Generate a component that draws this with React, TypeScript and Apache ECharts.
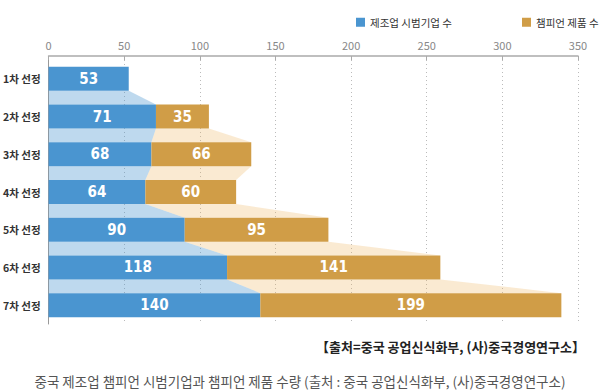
import React, { useEffect, useRef } from "react";
import * as echarts from "echarts";

const categories = ["1차 선정", "2차 선정", "3차 선정", "4차 선정", "5차 선정", "6차 선정", "7차 선정"];
const companies = [53, 71, 68, 64, 90, 118, 140];
const products = [0, 35, 66, 60, 95, 141, 199];
const xTicks = [0, 50, 100, 150, 200, 250, 300, 350];
const seriesNames = ["제조업 시범기업 수", "챔피언 제품 수"];
const sourceText = "【출처=중국 공업신식화부, (사)중국경영연구소】";
const captionText = "중국 제조업 챔피언 시범기업과 챔피언 제품 수량 (출처 : 중국 공업신식화부, (사)중국경영연구소)";

const BLUE = "#4a95d0";
const GOLD = "#d09d47";
const FONT = "'Noto Sans CJK KR', 'Noto Sans', sans-serif";
const NUMFONT = "'Liberation Sans Narrow', 'DejaVu Sans Condensed', sans-serif";
const BAR_W = 24;

export default function App() {
  const ref = useRef<HTMLDivElement>(null);
  useEffect(() => {
    if (!ref.current) return;
    const chart = echarts.init(ref.current, null, { renderer: "svg" });
    const connectors = categories.slice(0, -1).map((_, i) => [
      companies[i], i, products[i], companies[i + 1], products[i + 1],
    ]);
    chart.setOption({
      animation: false,
      textStyle: { fontFamily: FONT },
      legend: [
        {
          data: [seriesNames[0]], left: 351, top: 12, icon: "rect", itemWidth: 9, itemHeight: 9, itemGap: 6,
          textStyle: { fontSize: 10.5, color: "#333", fontFamily: FONT },
        },
        {
          data: [seriesNames[1]], left: 517, top: 12, icon: "rect", itemWidth: 9, itemHeight: 9,
          textStyle: { fontSize: 10.5, color: "#333", fontFamily: FONT },
        },
      ],
      grid: { left: 48, right: 22, top: 60, bottom: 68 },
      xAxis: {
        type: "value", position: "top", min: 0, max: Math.max(...xTicks), interval: 50, offset: 4,
        axisLine: { show: true, lineStyle: { color: "#aaa", width: 1.5 } },
        axisTick: { show: true, length: 4, inside: true, lineStyle: { color: "#aaa" } },
        axisLabel: { color: "#888", fontSize: 11, margin: 6, fontFamily: FONT },
        splitLine: { show: true, lineStyle: { color: "#bbb", type: [1, 3] } },
      },
      yAxis: {
        type: "category", data: categories, inverse: true,
        axisLine: { show: true, lineStyle: { color: "#999" } },
        axisTick: { show: false },
        axisLabel: { color: "#333", fontSize: 10.5, fontWeight: "bold", margin: 8, fontFamily: FONT },
      },
      series: [
        {
          type: "custom", z: 1, silent: true,
          encode: { x: 0, y: 1 },
          data: connectors,
          renderItem: (params: any, api: any) => {
            const i = api.value(1);
            const b0 = api.value(0), c0 = api.value(2), b1 = api.value(3), c1 = api.value(4);
            const p0 = api.coord([0, i]);
            const q0 = api.coord([0, i + 1]);
            const yTop = p0[1] + BAR_W / 2;
            const yBot = q0[1] - BAR_W / 2;
            const x0 = p0[0];
            const xb0 = api.coord([b0, i])[0];
            const xt0 = api.coord([b0 + c0, i])[0];
            const xb1 = api.coord([b1, i + 1])[0];
            const xt1 = api.coord([b1 + c1, i + 1])[0];
            const children: any[] = [
              {
                type: "polygon",
                shape: { points: [[x0, yTop], [xb0, yTop], [xb1, yBot], [x0, yBot]] },
                style: { fill: "rgba(74,149,208,0.36)" },
              },
            ];
            if (c0 > 0) {
              children.push({
                type: "polygon",
                shape: { points: [[xb0, yTop], [xt0, yTop], [xt1, yBot], [xb1, yBot]] },
                style: { fill: "rgba(236,176,90,0.27)" },
              });
            }
            return { type: "group", children };
          },
        },
        {
          name: seriesNames[0], type: "bar", stack: "t", barWidth: BAR_W, z: 3,
          data: companies,
          itemStyle: { color: BLUE },
          label: {
            show: true, position: "inside", color: "#fff", fontSize: 15, fontWeight: "bold",
            fontFamily: NUMFONT,
          },
        },
        {
          name: seriesNames[1], type: "bar", stack: "t", barWidth: BAR_W, z: 3,
          data: products.map((v) => (v === 0 ? null : v)),
          itemStyle: { color: GOLD },
          label: {
            show: true, position: "inside", color: "#fff", fontSize: 15, fontWeight: "bold",
            fontFamily: NUMFONT,
          },
        },
      ],
      graphic: [
        {
          type: "text", right: 15, top: 340,
          style: { text: sourceText, font: `bold 13px ${FONT}`, fill: "#222" },
        },
        {
          type: "text", left: "center", top: 374,
          style: { text: captionText, font: `13.5px ${FONT}`, fill: "#555" },
        },
      ],
    });
    return () => chart.dispose();
  }, []);
  return <div ref={ref} style={{ width: 600, height: 392, position: "absolute", left: 0, top: 0 }} />;
}
